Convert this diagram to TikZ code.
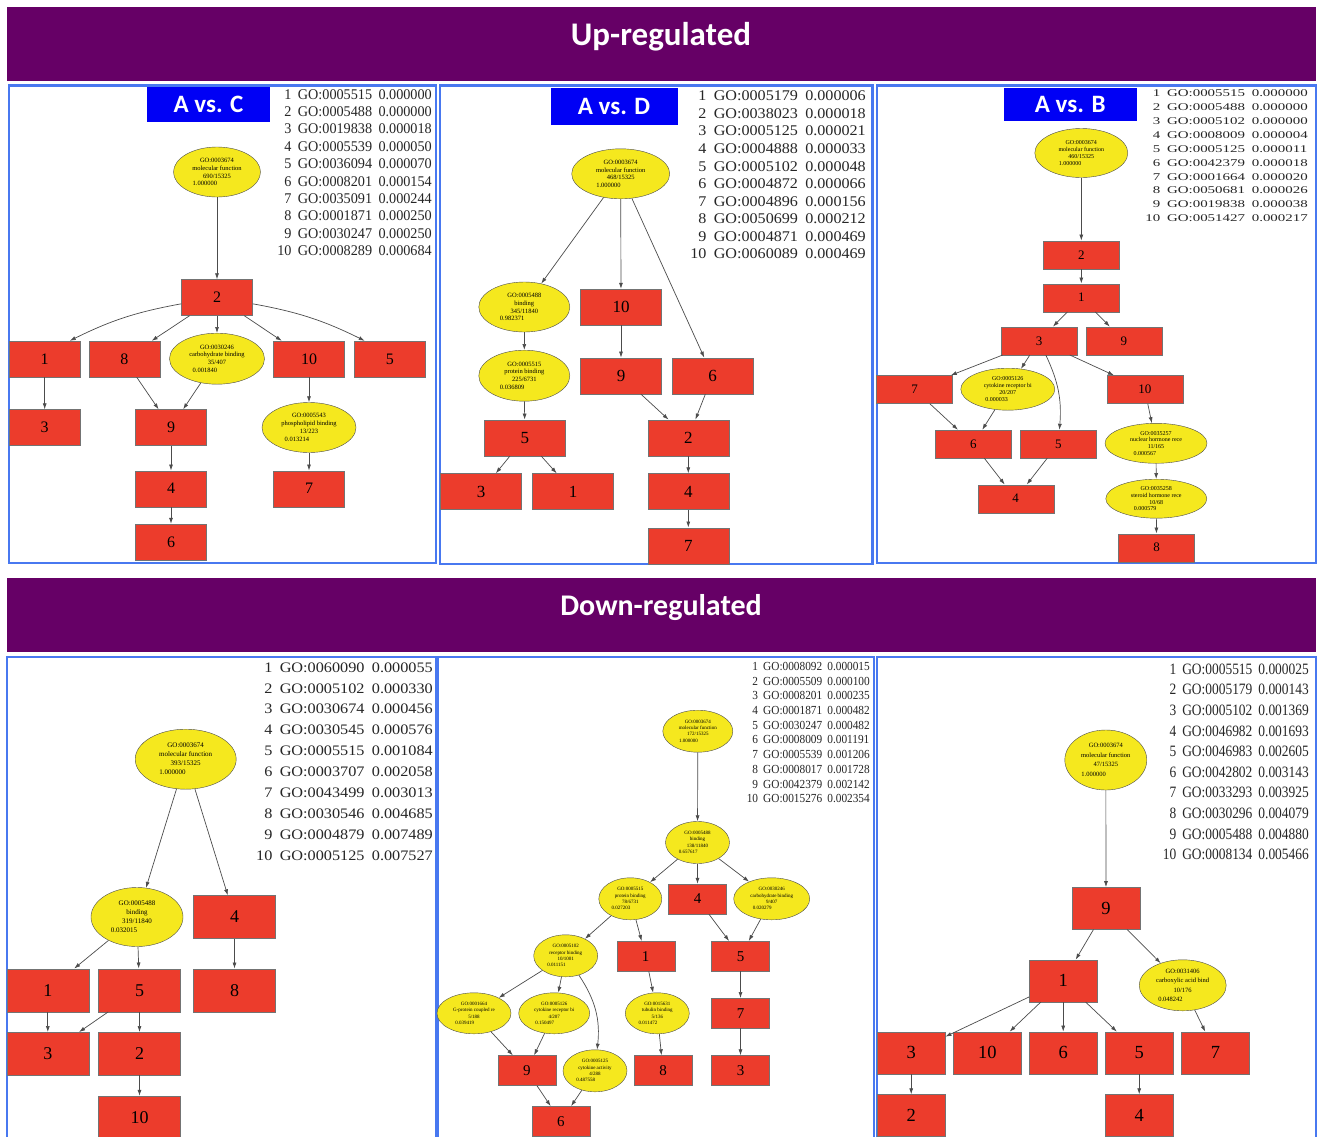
\documentclass[tikz,border=0pt]{standalone}
\usepackage{fontspec}
\usepackage{graphicx}
\setmainfont{Liberation Serif}
\newfontfamily\headfont{Carlito}
\usetikzlibrary{shapes.geometric,arrows.meta}

\definecolor{bannerpurple}{RGB}{102,0,102}
\definecolor{panelblue}{RGB}{72,120,240}
\definecolor{tagblue}{RGB}{0,0,245}
\definecolor{termred}{RGB}{236,60,44}
\definecolor{termyellow}{RGB}{245,232,30}

\tikzset{
  banner/.style={text=white, inner sep=0pt, font=\headfont\bfseries\fontsize{30}{30}\selectfont},
  tag/.style={fill=tagblue, text=white, inner sep=0pt, font=\headfont\bfseries\fontsize{25}{25}\selectfont},
  panel/.style={draw=panelblue, line width=2.5pt},
  term/.style={rectangle, draw=black!55, fill=termred, inner sep=0pt, minimum width=71pt, minimum height=36pt, font=\fontsize{16}{16}\selectfont},
  goterm/.style={ellipse, draw=black!70, fill=termyellow, inner sep=0pt, align=center, font=\fontsize{6.5}{7.8}\selectfont},
  edge/.style={->, draw=black!70, line width=0.7pt},
  golist/.style={anchor=north east, inner sep=0pt, text=black!85}
}
% scale, size, skip, rows
\newcommand{\golist}[4]{\scalebox{#1}[1]{\fontsize{#2}{#3}\selectfont
  \begin{tabular}{@{}r@{\hspace{0.45em}}l@{\hspace{0.45em}}l@{}}#4\end{tabular}}}
% p-value line of a term, ends at the centre
\newcommand{\goval}[1]{\makebox[0pt][r]{#1}}

\begin{document}
\begin{tikzpicture}[x=1pt, y=-1pt, >={Latex[length=6pt,width=4pt]}]
\useasboundingbox (0,0) rectangle (1320,1136);
\fill[white] (0,0) rectangle (1320,1136);

% banners
\fill[bannerpurple] (7,7) rectangle (1316,81);
\node[banner, font=\headfont\bfseries\fontsize{33}{33}\selectfont] (uplabel) at (661,37) {Up-regulated};
\fill[bannerpurple] (7,578) rectangle (1316,652);
\node[banner] (downlabel) at (661,608) {Down-regulated};

% panel frames
\draw[panel] (9,85.5) rectangle (436,563);
\draw[panel] (440,85.5) rectangle (872.5,564);
\draw[panel] (877,85.5) rectangle (1316,563);
\draw[panel] (7,657) rectangle (436,1140);
\draw[panel] (438,657) rectangle (874,1140);
\draw[panel] (877,657) rectangle (1316,1140);

%%% A vs. C (up)
\node[tag, minimum width=123pt, minimum height=35pt] (actag) at (208.5,104.5) {A vs. C};
\node[golist] (aclist) at (432,86.9) {\golist{0.96}{14.8}{17.35}{%
  1 & GO:0005515 & 0.000000\\ 2 & GO:0005488 & 0.000000\\ 3 & GO:0019838 & 0.000018\\
  4 & GO:0005539 & 0.000050\\ 5 & GO:0036094 & 0.000070\\ 6 & GO:0008201 & 0.000154\\
  7 & GO:0035091 & 0.000244\\ 8 & GO:0001871 & 0.000250\\ 9 & GO:0030247 & 0.000250\\
  10 & GO:0008289 & 0.000684}};
\node[goterm, minimum width=87pt, minimum height=50pt] (acroot) at (217,172) {GO:0003674\\molecular function\\690/15325\\\goval{1.000000}};
\node[term] (ac2) at (217,297.5) {2};
\node[term] (ac1) at (44.7,359) {1};
\node[term] (ac8) at (124.3,359) {8};
\node[goterm, minimum width=95pt, minimum height=51pt] (accarb) at (217,358.7) {GO:0030246\\carbohydrate binding\\35/407\\\goval{0.001840}};
\node[term] (ac10) at (309,359) {10};
\node[term] (ac5) at (389.8,359) {5};
\node[term] (ac3) at (44.7,427.5) {3};
\node[term] (ac9) at (171,427.5) {9};
\node[goterm, minimum width=94pt, minimum height=50pt] (acphos) at (309,427.5) {GO:0005543\\phospholipid binding\\13/223\\\goval{0.013214}};
\node[term] (ac4) at (171,488.7) {4};
\node[term] (ac7) at (309,488.7) {7};
\node[term] (ac6) at (171,542) {6};

\draw[edge] (acroot) -- (ac2);
\draw[edge] (ac2.190) to[bend right=8] (ac1.36);
\draw[edge] (ac2) -- (ac8);
\draw[edge] (ac2) -- (accarb);
\draw[edge] (ac2) -- (ac10);
\draw[edge] (ac2.-10) to[bend left=8] (ac5.144);
\draw[edge] (ac1) -- (ac3);
\draw[edge] (ac8) -- (ac9);
\draw[edge] (accarb) -- (ac9);
\draw[edge] (ac10) -- (acphos);
\draw[edge] (ac9) -- (ac4);
\draw[edge] (acphos) -- (ac7);
\draw[edge] (ac4) -- (ac6);

%%% A vs. D (up)
\begin{scope}[term/.append style={minimum width=81pt, font=\fontsize{17}{17}\selectfont}]
\node[tag, minimum width=127pt, minimum height=37pt] (adtag) at (614,106.3) {A vs. D};
\node[golist] (adlist) at (866,88.4) {\golist{1.09}{14.8}{17.55}{%
  1 & GO:0005179 & 0.000006\\ 2 & GO:0038023 & 0.000018\\ 3 & GO:0005125 & 0.000021\\
  4 & GO:0004888 & 0.000033\\ 5 & GO:0005102 & 0.000048\\ 6 & GO:0004872 & 0.000066\\
  7 & GO:0004896 & 0.000156\\ 8 & GO:0050699 & 0.000212\\ 9 & GO:0004871 & 0.000469\\
  10 & GO:0060089 & 0.000469}};
\node[goterm, minimum width=98pt, minimum height=50pt] (adroot) at (620.7,173.8) {GO:0003674\\molecular function\\468/15325\\\goval{1.000000}};
\node[goterm, minimum width=91pt, minimum height=50pt] (adbind) at (524.3,307) {GO:0005488\\binding\\345/11840\\\goval{0.982371}};
\node[term] (ad10) at (621,307) {10};
\node[goterm, minimum width=91pt, minimum height=51pt] (adprot) at (524.3,375.7) {GO:0005515\\protein binding\\225/6731\\\goval{0.036809}};
\node[term] (ad9) at (621,375.8) {9};
\node[term] (ad6) at (712.5,375.8) {6};
\node[term] (ad5) at (524.8,437.8) {5};
\node[term] (ad2) at (688.3,437.8) {2};
\node[term] (ad3) at (481,491.5) {3};
\node[term] (ad1) at (573,491.5) {1};
\node[term] (ad4) at (688.3,491.5) {4};
\node[term] (ad7) at (688.3,545.7) {7};
\end{scope}

\draw[edge] (adroot) -- (adbind);
\draw[edge] (adroot) -- (ad10);
\draw[edge] (adroot) -- (ad6);
\draw[edge] (adbind) -- (adprot);
\draw[edge] (adprot) -- (ad5);
\draw[edge] (ad10) -- (ad9);
\draw[edge] (ad9) -- (ad2);
\draw[edge] (ad6) -- (ad2);
\draw[edge] (ad5) -- (ad3);
\draw[edge] (ad5) -- (ad1);
\draw[edge] (ad2) -- (ad4);
\draw[edge] (ad4) -- (ad7);

%%% A vs. B (up)
\begin{scope}[term/.append style={minimum width=76pt, minimum height=28pt, font=\fontsize{13}{13}\selectfont},
              goterm/.append style={font=\fontsize{6}{6.8}\selectfont}]
\node[tag, minimum width=133pt, minimum height=33pt] (abtag) at (1070.2,104) {A vs. B};
\node[golist] (ablist) at (1308,86.7) {\golist{1.45}{10.3}{13.9}{%
  1 & GO:0005515 & 0.000000\\ 2 & GO:0005488 & 0.000000\\ 3 & GO:0005102 & 0.000000\\
  4 & GO:0008009 & 0.000004\\ 5 & GO:0005125 & 0.000011\\ 6 & GO:0042379 & 0.000018\\
  7 & GO:0001664 & 0.000020\\ 8 & GO:0050681 & 0.000026\\ 9 & GO:0019838 & 0.000038\\
  10 & GO:0051427 & 0.000217}};
\node[goterm, minimum width=93pt, minimum height=49pt] (abroot) at (1081.3,153) {GO:0003674\\molecular function\\460/15325\\\goval{1.000000}};
\node[term] (ab2) at (1081.3,254.8) {2};
\node[term] (ab1) at (1081.3,297.7) {1};
\node[term] (ab3) at (1039,340.8) {3};
\node[term] (ab9) at (1123.8,340.8) {9};
\node[term] (ab7) at (914.5,389.5) {7};
\node[goterm, minimum width=94pt, minimum height=42pt] (abcyto) at (1007.8,389.2) {GO:0005126\\cytokine receptor bi\\20/207\\\goval{0.000033}};
\node[term] (ab10) at (1144.8,389.5) {10};
\node[term] (ab6) at (973.3,444) {6};
\node[term] (ab5) at (1058.3,444) {5};
\node[goterm, minimum width=102pt, minimum height=40pt] (abnuc) at (1156,443.3) {GO:0035257\\nuclear hormone rece\\11/165\\\goval{0.000567}};
\node[term] (ab4) at (1015.7,498.7) {4};
\node[goterm, minimum width=101pt, minimum height=39pt] (absteroid) at (1156.3,498.7) {GO:0035258\\steroid hormone rece\\10/68\\\goval{0.000579}};
\node[term] (ab8) at (1156.5,547.7) {8};
\end{scope}

\draw[edge] (abroot) -- (ab2);
\draw[edge] (ab2) -- (ab1);
\draw[edge] (ab1) -- (ab3);
\draw[edge] (ab1) -- (ab9);
\draw[edge] (ab3) -- (ab7);
\draw[edge] (ab3) -- (abcyto);
\draw[edge] (ab3) to[bend left=15] (ab5);
\draw[edge] (ab3) -- (ab10);
\draw[edge] (ab7) -- (ab6);
\draw[edge] (abcyto) -- (ab6);
\draw[edge] (ab6) -- (ab4);
\draw[edge] (ab5) -- (ab4);
\draw[edge] (ab10) -- (abnuc);
\draw[edge] (abnuc) -- (absteroid);
\draw[edge] (absteroid) -- (ab8);

%%% A vs. C (down)
\begin{scope}[term/.append style={minimum width=82pt, minimum height=43pt, font=\fontsize{18}{18}\selectfont},
              goterm/.append style={font=\fontsize{7}{9}\selectfont}]
\node[golist] (dclist) at (433,657.3) {\golist{1.12}{14.5}{20.9}{%
  1 & GO:0060090 & 0.000055\\ 2 & GO:0005102 & 0.000330\\ 3 & GO:0030674 & 0.000456\\
  4 & GO:0030545 & 0.000576\\ 5 & GO:0005515 & 0.001084\\ 6 & GO:0003707 & 0.002058\\
  7 & GO:0043499 & 0.003013\\ 8 & GO:0030546 & 0.004685\\ 9 & GO:0004879 & 0.007489\\
  10 & GO:0005125 & 0.007527}};
\node[goterm, minimum width=101pt, minimum height=60pt] (dcroot) at (185.7,759.2) {GO:0003674\\molecular function\\393/15325\\\goval{1.000000}};
\node[goterm, minimum width=92pt, minimum height=59pt] (dcbind) at (137,917) {GO:0005488\\binding\\319/11840\\\goval{0.032015}};
\node[term] (dc4) at (234.5,917) {4};
\node[term] (dc1) at (47.8,990.2) {1};
\node[term] (dc5) at (139.5,990.2) {5};
\node[term] (dc8) at (234.5,990.2) {8};
\node[term] (dc3) at (47.8,1053.7) {3};
\node[term] (dc2) at (139.5,1053.7) {2};
\node[term] (dc10) at (139.5,1117.5) {10};
\end{scope}

\draw[edge] (dcroot) -- (dcbind);
\draw[edge] (dcroot) -- (dc4);
\draw[edge] (dcbind) -- (dc1);
\draw[edge] (dcbind) -- (dc5);
\draw[edge] (dc4) -- (dc8);
\draw[edge] (dc1) -- (dc3);
\draw[edge] (dc5) -- (dc3);
\draw[edge] (dc5) -- (dc2);
\draw[edge] (dc2) -- (dc10);

%%% A vs. D (down)
\begin{scope}[term/.append style={minimum width=58pt, minimum height=30pt, font=\fontsize{15}{15}\selectfont},
              goterm/.append style={font=\fontsize{5}{6.3}\selectfont}]
\node[golist] (ddlist) at (870,659.9) {\golist{0.92}{12.3}{14.7}{%
  1 & GO:0008092 & 0.000015\\ 2 & GO:0005509 & 0.000100\\ 3 & GO:0008201 & 0.000235\\
  4 & GO:0001871 & 0.000482\\ 5 & GO:0030247 & 0.000482\\ 6 & GO:0008009 & 0.001191\\
  7 & GO:0005539 & 0.001206\\ 8 & GO:0008017 & 0.001728\\ 9 & GO:0042379 & 0.002142\\
  10 & GO:0015276 & 0.002354}};
\node[goterm, minimum width=70pt, minimum height=42pt] (ddroot) at (697.8,731.2) {GO:0003674\\molecular function\\172/15325\\\goval{1.000000}};
\node[goterm, minimum width=64pt, minimum height=42pt] (ddbind) at (697.5,842.5) {GO:0005488\\binding\\138/11840\\\goval{0.657617}};
\node[goterm, minimum width=63pt, minimum height=42pt] (ddprot) at (630.3,898.8) {GO:0005515\\protein binding\\78/6731\\\goval{0.027203}};
\node[term] (dd4) at (697.5,899) {4};
\node[goterm, minimum width=76pt, minimum height=42pt] (ddcarb) at (771.7,898.8) {GO:0030246\\carbohydrate binding\\9/407\\\goval{0.020279}};
\node[goterm, minimum width=64pt, minimum height=42pt] (ddrecep) at (565.7,955.8) {GO:0005102\\receptor binding\\10/1001\\\goval{0.011151}};
\node[term] (dd1) at (645.7,956.2) {1};
\node[term] (dd5) at (740.5,956.2) {5};
\node[goterm, minimum width=74pt, minimum height=41pt] (ddgprot) at (474,1013.3) {GO:0001664\\G-protein coupled re\\5/188\\\goval{0.039419}};
\node[goterm, minimum width=71pt, minimum height=41pt] (ddcyto) at (554.2,1013.3) {GO:0005126\\cytokine receptor bi\\4/207\\\goval{0.150497}};
\node[goterm, minimum width=64pt, minimum height=41pt] (ddtub) at (657.3,1013.3) {GO:0015631\\tubulin binding\\5/136\\\goval{0.011472}};
\node[term] (dd7) at (740.5,1013.2) {7};
\node[term] (dd9) at (526.8,1070.5) {9};
\node[goterm, minimum width=64pt, minimum height=42pt] (ddcytact) at (595,1070.8) {GO:0005125\\cytokine activity\\4/288\\\goval{0.487558}};
\node[term] (dd8) at (663,1070.5) {8};
\node[term] (dd3) at (740.5,1070.5) {3};
\node[term] (dd6) at (560.8,1121.3) {6};
\end{scope}

\draw[edge] (ddroot) -- (ddbind);
\draw[edge] (ddbind) -- (ddprot);
\draw[edge] (ddbind) -- (dd4);
\draw[edge] (ddbind) -- (ddcarb);
\draw[edge] (ddprot) -- (ddrecep);
\draw[edge] (ddprot) -- (dd1);
\draw[edge] (dd4) -- (dd5);
\draw[edge] (ddcarb) -- (dd5);
\draw[edge] (ddrecep) -- (ddgprot);
\draw[edge] (ddrecep) -- (ddcyto);
\draw[edge] (ddrecep) to[bend left=20] (ddcytact);
\draw[edge] (dd1) -- (ddtub);
\draw[edge] (dd5) -- (dd7);
\draw[edge] (ddgprot) -- (dd9);
\draw[edge] (ddcyto) -- (dd9);
\draw[edge] (ddtub) -- (dd8);
\draw[edge] (dd7) -- (dd3);
\draw[edge] (dd9) -- (dd6);
\draw[edge] (ddcytact) -- (dd6);

%%% A vs. B (down)
\begin{scope}[term/.append style={minimum width=68pt, minimum height=42pt, font=\fontsize{18.5}{18.5}\selectfont},
              goterm/.append style={font=\fontsize{6.5}{9.5}\selectfont}]
\node[golist] (dblist) at (1309,659.6) {\golist{0.85}{15.8}{20.6}{%
  1 & GO:0005515 & 0.000025\\ 2 & GO:0005179 & 0.000143\\ 3 & GO:0005102 & 0.001369\\
  4 & GO:0046982 & 0.001693\\ 5 & GO:0046983 & 0.002605\\ 6 & GO:0042802 & 0.003143\\
  7 & GO:0033293 & 0.003925\\ 8 & GO:0030296 & 0.004079\\ 9 & GO:0005488 & 0.004880\\
  10 & GO:0008134 & 0.005466}};
\node[goterm, minimum width=82pt, minimum height=60pt] (dbroot) at (1105.8,760) {GO:0003674\\molecular function\\47/15325\\\goval{1.000000}};
\node[term] (db9) at (1106,908.3) {9};
\node[term] (db1) at (1063.2,980.8) {1};
\node[goterm, minimum width=87pt, minimum height=51pt] (dbcarbox) at (1182.7,985.3) {GO:0031406\\carboxylic acid bind\\10/176\\\goval{0.048242}};
\node[term] (db3) at (911.2,1052.8) {3};
\node[term] (db10) at (987.3,1052.8) {10};
\node[term] (db6) at (1063.2,1052.8) {6};
\node[term] (db5) at (1139.2,1052.8) {5};
\node[term] (db7) at (1215.5,1052.8) {7};
\node[term] (db2) at (911.2,1115.5) {2};
\node[term] (db4) at (1139.2,1115.5) {4};
\end{scope}

\draw[edge] (dbroot) -- (db9);
\draw[edge] (db9) -- (db1);
\draw[edge] (db9) -- (dbcarbox);
\draw[edge] (db1) -- (db3);
\draw[edge] (db1) -- (db10);
\draw[edge] (db1) -- (db6);
\draw[edge] (db1) -- (db5);
\draw[edge] (dbcarbox) -- (db7);
\draw[edge] (db3) -- (db2);
\draw[edge] (db5) -- (db4);
\end{tikzpicture}
\end{document}
